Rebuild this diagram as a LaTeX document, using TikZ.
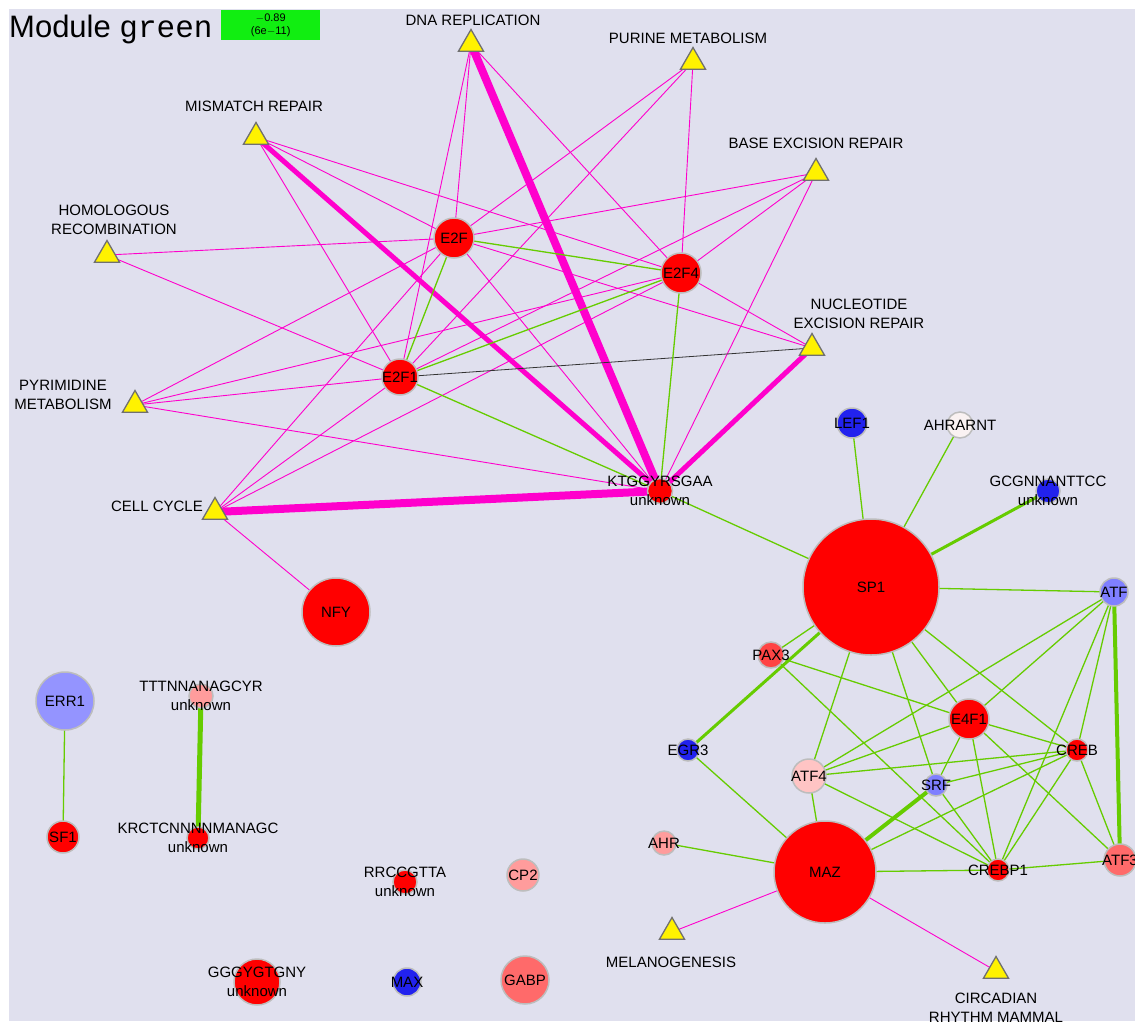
\documentclass[tikz,border=0pt]{standalone}
\usepackage{fontspec}
\setmainfont{Liberation Sans}
\newfontfamily\monofam{Liberation Mono}
\usetikzlibrary{shapes.geometric,backgrounds}

\definecolor{bgpanel}{HTML}{E0E0EE}
\definecolor{mag}{HTML}{FF00CC}
\definecolor{grn}{HTML}{66CC00}
\definecolor{rim}{HTML}{BDBDBD}
\definecolor{tririm}{HTML}{707070}
\definecolor{blu}{HTML}{2222EE}
\definecolor{lblu}{HTML}{7F7FFF}
\definecolor{errblu}{HTML}{9494FF}
\definecolor{nearwhite}{HTML}{FAF2F2}
\definecolor{pax}{HTML}{FF4444}
\definecolor{pinkA}{HTML}{FFC4C4}
\definecolor{pinkB}{HTML}{FF9C9C}
\definecolor{pinkC}{HTML}{FF6A6A}
\definecolor{boxgreen}{HTML}{11EE11}

\tikzset{
  tf/.style={circle, draw=rim, line width=1.5pt, inner sep=0pt, fill=#1},
  pw/.style={regular polygon, regular polygon sides=3, minimum size=29pt,
             inner sep=0pt, draw=tririm, line width=1.3pt, fill=yellow},
  lbl/.style={font=\fontsize{15}{19}\selectfont, text=black, align=center, inner sep=0pt},
  mg/.style={draw=mag, line width=0.9pt},
  mgk/.style={draw=mag, line width=#1},
  gr/.style={draw=grn, line width=1.3pt},
  grk/.style={draw=grn, line width=#1},
  bk/.style={draw=black!80, line width=0.8pt},
}

\begin{document}
\begin{tikzpicture}[x=1pt, y=-1pt]
\useasboundingbox (0,0) rectangle (1135,1021);

% ---- title and score box
\node[anchor=base west, inner sep=0pt] (title) at (9,37)
  {\fontsize{31}{34}\selectfont Module {\monofam green}};
\node[fill=boxgreen, minimum width=99pt, minimum height=30pt, inner sep=0pt,
      anchor=north west, align=center, font=\fontsize{11}{12.5}\selectfont]
  (score) at (221,10) {$-$0.89\\(6e$-$11)};

% ---- pathway triangles
\node[pw] (dna) at (471,44) {};
\node[pw] (pur) at (693,62) {};
\node[pw] (mis) at (256,137) {};
\node[pw] (ber) at (816,173) {};
\node[pw] (hom) at (107,255) {};
\node[pw] (ner) at (812,348) {};
\node[pw] (pyr) at (135,405) {};
\node[pw] (cc)  at (215,512) {};
\node[pw] (mel) at (672,932) {};
\node[pw] (cir) at (996,971) {};

\node[lbl] (dnaL) at (473,20) {DNA REPLICATION};
\node[lbl] (purL) at (688,38) {PURINE METABOLISM};
\node[lbl] (misL) at (254,106) {MISMATCH REPAIR};
\node[lbl] (berL) at (816,143) {BASE EXCISION REPAIR};
\node[lbl] (homL) at (114,220) {HOMOLOGOUS\\RECOMBINATION};
\node[lbl] (nerL) at (859,314) {NUCLEOTIDE\\EXCISION REPAIR};
\node[lbl] (pyrL) at (63,395) {PYRIMIDINE\\METABOLISM};
\node[lbl] (ccL)  at (157,506) {CELL CYCLE};
\node[lbl] (melL) at (671,962) {MELANOGENESIS};
\node[lbl] (cirL) at (996,1008) {CIRCADIAN\\RHYTHM MAMMAL};

% ---- transcription factor circles
\node[tf=red, minimum size=40pt, label={[lbl]center:E2F}]  (e2f)  at (454,238) {};
\node[tf=red, minimum size=40pt, label={[lbl]center:E2F4}] (e2f4) at (681,273) {};
\node[tf=red, minimum size=36pt, label={[lbl]center:E2F1}] (e2f1) at (400,377) {};
\node[tf=red, minimum size=25pt, label={[lbl]center:KTGGYRSGAA\\unknown}] (ktg) at (660,491) {};
\node[tf=red, minimum size=68pt, label={[lbl]center:NFY}] (nfy) at (336,612) {};
\node[tf=blu, minimum size=30pt, label={[lbl]center:LEF1}] (lef) at (852,423) {};
\node[tf=nearwhite, minimum size=26pt, label={[lbl]center:AHRARNT}] (ahrarnt) at (960,425) {};
\node[tf=blu, minimum size=24pt, label={[lbl]center:GCGNNANTTCC\\unknown}] (gcg) at (1048,491) {};
\node[tf=red, minimum size=136pt, label={[lbl]center:SP1}] (sp1) at (871,587) {};
\node[tf=lblu, minimum size=28pt, label={[lbl]center:ATF}] (atf) at (1114,592) {};
\node[tf=pax, minimum size=26pt, label={[lbl]center:PAX3}] (pax3) at (771,655) {};
\node[tf=red, minimum size=40pt, label={[lbl]center:E4F1}] (e4f1) at (969,719) {};
\node[tf=blu, minimum size=22pt, label={[lbl]center:EGR3}] (egr3) at (688,750) {};
\node[tf=red, minimum size=22pt, label={[lbl]center:CREB}] (creb) at (1077,750) {};
\node[tf=pinkA, minimum size=34pt, label={[lbl]center:ATF4}] (atf4) at (809,776) {};
\node[tf=lblu, minimum size=22pt, label={[lbl]center:SRF}] (srf) at (936,785) {};
\node[tf=pinkB, minimum size=24pt, label={[lbl]center:AHR}] (ahr) at (664,843) {};
\node[tf=red, minimum size=102pt, label={[lbl]center:MAZ}] (maz) at (825,872) {};
\node[tf=red, minimum size=22pt, label={[lbl]center:CREBP1}] (crebp1) at (998,870) {};
\node[tf=pinkC, minimum size=32pt, label={[lbl]center:ATF3}] (atf3) at (1120,860) {};
\node[tf=errblu, minimum size=58pt, label={[lbl]center:ERR1}] (err1) at (65,701) {};
\node[tf=red, minimum size=32pt, label={[lbl]center:SF1}] (sf1) at (63,837) {};
\node[tf=pinkB, minimum size=24pt, label={[lbl]center:TTTNNANAGCYR\\unknown}] (ttt) at (201,696) {};
\node[tf=red, minimum size=22pt, label={[lbl]center:KRCTCNNNNMANAGC\\unknown}] (krc) at (198,838) {};
\node[tf=red, minimum size=24pt, label={[lbl]center:RRCCGTTA\\unknown}] (rrc) at (405,882) {};
\node[tf=pinkB, minimum size=32pt, label={[lbl]center:CP2}] (cp2) at (523,875) {};
\node[tf=red, minimum size=46pt, label={[lbl]center:GGGYGTGNY\\unknown}] (ggg) at (257,982) {};
\node[tf=blu, minimum size=28pt, label={[lbl]center:MAX}] (max) at (407,982) {};
\node[tf=pinkC, minimum size=48pt, label={[lbl]center:GABP}] (gabp) at (525,980) {};

\begin{pgfonlayer}{background}
  \fill[white] (0,0) rectangle (1135,1021);
  \fill[bgpanel] (9,9) rectangle (1135,1021);

  % pathway links
  \draw[mgk=8pt] (dna.center) -- (ktg.center);
  \draw[mgk=8pt] (cc.center) -- (ktg.center);
  \draw[mgk=5pt] (mis.center) -- (ktg.center);
  \draw[mgk=5pt] (ner.center) -- (ktg.center);
  \foreach \a/\b in {dna/e2f, dna/e2f1, dna/e2f4,
                     pur/e2f4, pur/e2f, pur/e2f1,
                     mis/e2f, mis/e2f4, mis/e2f1,
                     ber/e2f, ber/e2f4, ber/ktg, ber/e2f1,
                     hom/e2f, hom/e2f1,
                     pyr/e2f, pyr/e2f4, pyr/e2f1, pyr/ktg,
                     cc/e2f1, cc/e2f, cc/e2f4, cc/nfy,
                     ner/e2f, ner/e2f4, e2f/ktg,
                     maz/mel, maz/cir}
    \draw[mg] (\a.center) -- (\b.center);
  \draw[bk] (e2f1.center) -- (ner.center);

  % factor-factor links
  \foreach \a/\b in {e2f/e2f4, e2f/e2f1, e2f4/e2f1, e2f4/ktg, e2f1/ktg, ktg/sp1,
                     lef/sp1, ahrarnt/sp1, sp1/atf, sp1/pax3, sp1/atf4, sp1/srf,
                     sp1/e4f1, sp1/creb,
                     atf/e4f1, atf/atf4, atf/creb, atf/crebp1,
                     pax3/e4f1, pax3/crebp1,
                     e4f1/atf4, e4f1/creb, e4f1/srf, e4f1/crebp1, e4f1/atf3,
                     creb/atf4, creb/srf, creb/crebp1, creb/atf3, creb/maz,
                     atf4/maz, atf4/crebp1, srf/crebp1,
                     maz/crebp1, crebp1/atf3, egr3/maz, ahr/maz, err1/sf1}
    \draw[gr] (\a.center) -- (\b.center);
  \draw[grk=3pt] (gcg.center) -- (sp1.center);
  \draw[grk=3pt] (egr3.center) -- (sp1.center);
  \draw[grk=4pt] (atf.center) -- (atf3.center);
  \draw[grk=4pt] (srf.center) -- (maz.center);
  \draw[grk=5pt] (ttt.center) -- (krc.center);
\end{pgfonlayer}
\end{tikzpicture}
\end{document}
